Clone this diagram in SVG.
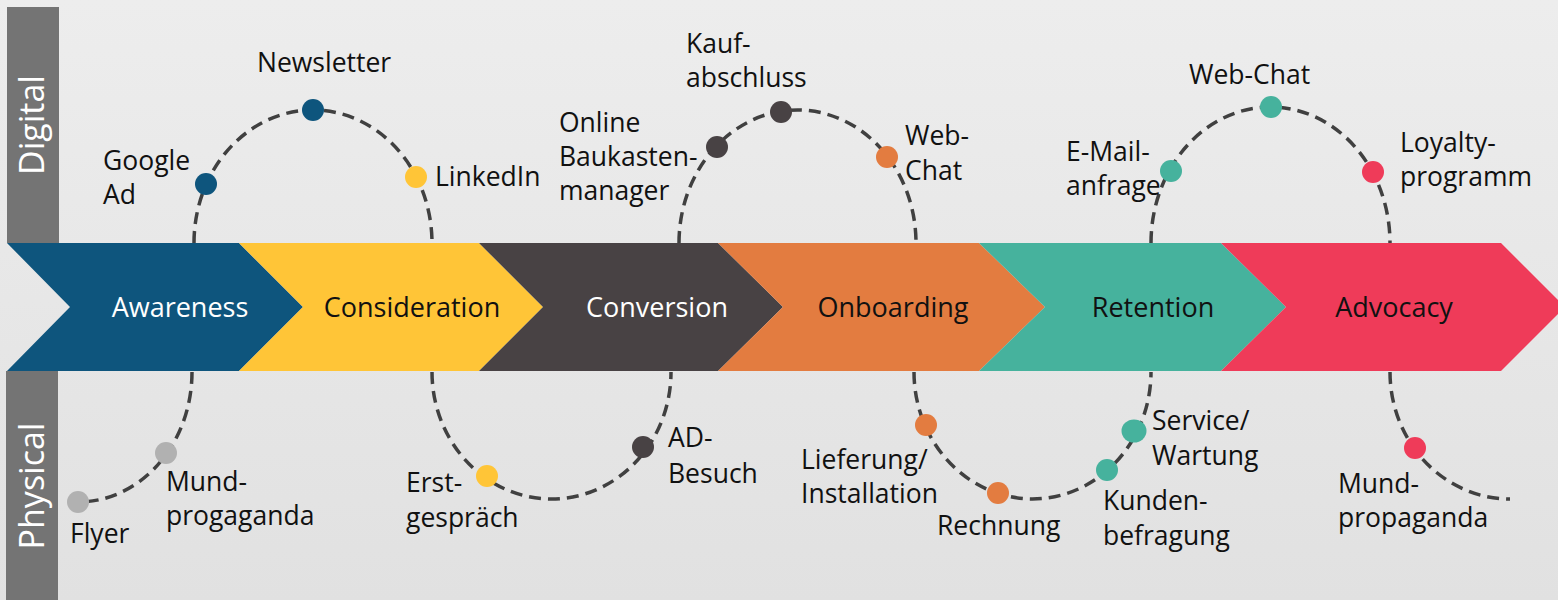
<svg xmlns="http://www.w3.org/2000/svg" width="1558" height="600" viewBox="0 0 1558 600">
  <defs>
    <linearGradient id="bg" x1="0" y1="0" x2="0" y2="1">
      <stop offset="0" stop-color="#EDEDED"/>
      <stop offset="1" stop-color="#E1E1E1"/>
    </linearGradient>
  </defs>
  <style>
    .lane { fill: #747474; }
    .lane-label { font-family: "Open Sans", "Liberation Sans", sans-serif; font-size: 34px; fill: #FFFFFF; text-anchor: middle; }
    .stage-label { font-family: "Open Sans", "Liberation Sans", sans-serif; font-size: 27px; text-anchor: middle; }
    .lbl { font-family: "Open Sans", "Liberation Sans", sans-serif; font-size: 26.5px; fill: #111111; }
    .path { fill: none; stroke: #404040; stroke-width: 3.5; stroke-dasharray: 12 7; }
    .dot { stroke: none; }
    .c-blue { fill: #0E557D; }
    .c-yellow { fill: #FFC537; }
    .c-dark { fill: #484244; }
    .c-orange { fill: #E37C40; }
    .c-teal { fill: #46B29D; }
    .c-red { fill: #EF3B59; }
    .c-grey { fill: #B1B1B1; }
  </style>

  <rect x="0" y="0" width="1558" height="600" fill="url(#bg)"/>

  <!-- swim lanes -->
  <g id="lane-digital">
    <rect class="lane" x="7" y="7" width="52" height="236"/>
    <text class="lane-label" transform="translate(44,125) rotate(-90)">Digital</text>
  </g>
  <g id="lane-physical">
    <rect class="lane" x="6" y="371" width="52" height="229"/>
    <text class="lane-label" transform="translate(44,486) rotate(-90)">Physical</text>
  </g>

  <!-- dashed journey paths -->
  <g id="connectors">
    <path class="path" d="M194,243 A119,133 0 0 1 432,243"/>
    <path class="path" d="M192,372 A114,130 0 0 1 78,502"/>
    <path class="path" d="M432,372 A119.5,127 0 0 0 671,372"/>
    <path class="path" d="M679,243 A118.5,133 0 0 1 916,243"/>
    <path class="path" d="M914,372 A118.5,127 0 0 0 1151,372"/>
    <path class="path" d="M1151,243 A119.5,136 0 0 1 1390,243"/>
    <path class="path" d="M1390,372 A120,127 0 0 0 1510,499"/>
  </g>

  <!-- journey stages -->
  <g id="stage-awareness">
    <polygon class="c-blue" points="7,243 239,243 303,307 239,371 7,371 70,307"/>
    <text class="stage-label" x="180" y="317" fill="#FFFFFF">Awareness</text>
  </g>
  <g id="stage-consideration">
    <polygon class="c-yellow" points="239,243 479,243 543,307 479,371 239,371 303,307"/>
    <text class="stage-label" x="412" y="317" fill="#111111">Consideration</text>
  </g>
  <g id="stage-conversion">
    <polygon class="c-dark" points="479,243 718,243 783,307 718,371 479,371 543,307"/>
    <text class="stage-label" x="657" y="317" fill="#FFFFFF">Conversion</text>
  </g>
  <g id="stage-onboarding">
    <polygon class="c-orange" points="718,243 979,243 1045,307 979,371 718,371 783,307"/>
    <text class="stage-label" x="893" y="317" fill="#111111">Onboarding</text>
  </g>
  <g id="stage-retention">
    <polygon class="c-teal" points="979,243 1221,243 1286,307 1221,371 979,371 1045,307"/>
    <text class="stage-label" x="1153" y="317" fill="#111111">Retention</text>
  </g>
  <g id="stage-advocacy">
    <polygon class="c-red" points="1221,243 1501,243 1565,307 1501,371 1221,371 1286,307"/>
    <text class="stage-label" x="1394" y="317" fill="#111111">Advocacy</text>
  </g>

  <!-- touchpoints -->
  <g id="tp-google-ad">
    <circle class="dot c-blue" cx="206" cy="184" r="11"/>
    <text class="lbl" x="103" y="170">Google</text>
    <text class="lbl" x="103" y="204">Ad</text>
  </g>
  <g id="tp-newsletter">
    <circle class="dot c-blue" cx="313" cy="110" r="11"/>
    <text class="lbl" x="257" y="72">Newsletter</text>
  </g>
  <g id="tp-linkedin">
    <circle class="dot c-yellow" cx="416" cy="177" r="11"/>
    <text class="lbl" x="435" y="186">LinkedIn</text>
  </g>
  <g id="tp-flyer">
    <circle class="dot c-grey" cx="78" cy="502" r="11"/>
    <text class="lbl" x="70" y="543">Flyer</text>
  </g>
  <g id="tp-mund-left">
    <circle class="dot c-grey" cx="166" cy="453" r="11"/>
    <text class="lbl" x="166" y="491">Mund-</text>
    <text class="lbl" x="166" y="525">progaganda</text>
  </g>
  <g id="tp-erstgespraech">
    <circle class="dot c-yellow" cx="487" cy="476" r="11"/>
    <text class="lbl" x="406" y="492">Erst-</text>
    <text class="lbl" x="406" y="527">gespräch</text>
  </g>
  <g id="tp-ad-besuch">
    <circle class="dot c-dark" cx="643" cy="447" r="11"/>
    <text class="lbl" x="668" y="447">AD-</text>
    <text class="lbl" x="668" y="483">Besuch</text>
  </g>
  <g id="tp-online-baukasten">
    <circle class="dot c-dark" cx="717" cy="147" r="11"/>
    <text class="lbl" x="559" y="132">Online</text>
    <text class="lbl" x="559" y="166">Baukasten-</text>
    <text class="lbl" x="559" y="200">manager</text>
  </g>
  <g id="tp-kaufabschluss">
    <circle class="dot c-dark" cx="781" cy="112" r="11"/>
    <text class="lbl" x="686" y="53">Kauf-</text>
    <text class="lbl" x="686" y="87">abschluss</text>
  </g>
  <g id="tp-webchat-onboarding">
    <circle class="dot c-orange" cx="887" cy="157" r="11"/>
    <text class="lbl" x="905" y="145">Web-</text>
    <text class="lbl" x="905" y="180">Chat</text>
  </g>
  <g id="tp-lieferung">
    <circle class="dot c-orange" cx="926" cy="425" r="11"/>
    <text class="lbl" x="801" y="469">Lieferung/</text>
    <text class="lbl" x="801" y="503">Installation</text>
  </g>
  <g id="tp-rechnung">
    <circle class="dot c-orange" cx="998" cy="493" r="11"/>
    <text class="lbl" x="937" y="535">Rechnung</text>
  </g>
  <g id="tp-kundenbefragung">
    <circle class="dot c-teal" cx="1107" cy="470" r="11"/>
    <text class="lbl" x="1103" y="510">Kunden-</text>
    <text class="lbl" x="1103" y="545">befragung</text>
  </g>
  <g id="tp-service">
    <ellipse class="dot c-teal" cx="1134" cy="431" rx="12.5" ry="11.5"/>
    <text class="lbl" x="1152" y="430">Service/</text>
    <text class="lbl" x="1152" y="465">Wartung</text>
  </g>
  <g id="tp-email">
    <circle class="dot c-teal" cx="1171" cy="171" r="11"/>
    <text class="lbl" x="1066" y="161">E-Mail-</text>
    <text class="lbl" x="1066" y="195">anfrage</text>
  </g>
  <g id="tp-webchat-retention">
    <circle class="dot c-teal" cx="1271" cy="107" r="11"/>
    <text class="lbl" x="1189" y="84">Web-Chat</text>
  </g>
  <g id="tp-loyalty">
    <circle class="dot c-red" cx="1373" cy="172" r="11"/>
    <text class="lbl" x="1400" y="152">Loyalty-</text>
    <text class="lbl" x="1400" y="186">programm</text>
  </g>
  <g id="tp-mund-right">
    <circle class="dot c-red" cx="1415" cy="448" r="11"/>
    <text class="lbl" x="1338" y="493">Mund-</text>
    <text class="lbl" x="1338" y="527">propaganda</text>
  </g>
</svg>
